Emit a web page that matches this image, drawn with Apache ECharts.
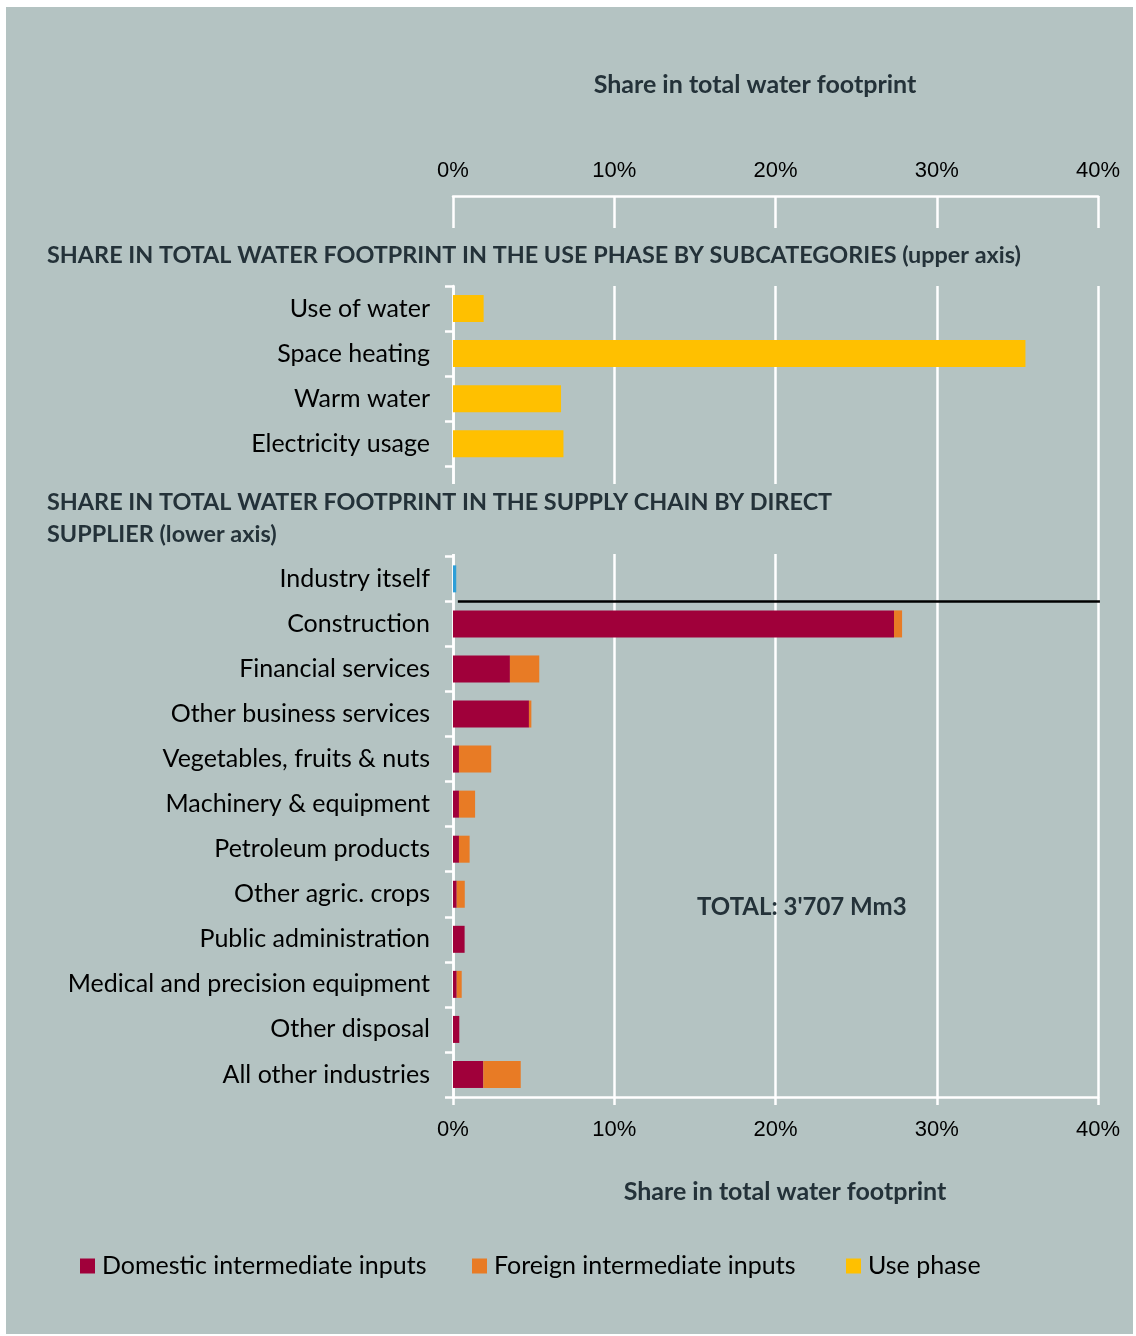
<!DOCTYPE html>
<html>
<head>
<meta charset="utf-8">
<script src="https://cdn.jsdelivr.net/npm/echarts@6/dist/echarts.min.js"></script>
<style>
  html, body { margin: 0; padding: 0; background: #ffffff; }
  #bg { position: absolute; left: 6px; top: 7px; width: 1127px; height: 1327px; background: #b4c3c2; }
  #chart { position: absolute; left: 0; top: 0; width: 1136px; height: 1336px; }
</style>
</head>
<body>
<div id="bg"></div>
<div id="chart"></div>
<script>
// Rows of the chart, top to bottom; the two blank rows hold the supply-chain heading.
const categories = [
  'Use of water', 'Space heating', 'Warm water', 'Electricity usage',
  ' ', '  ',
  'Industry itself', 'Construction', 'Financial services', 'Other business services',
  'Vegetables, fruits & nuts', 'Machinery & equipment', 'Petroleum products',
  'Other agric. crops', 'Public administration', 'Medical and precision equipment',
  'Other disposal', 'All other industries'
];

// Shares in total water footprint, in percent
const usePhase = [1.9, 35.5, 6.7, 6.85, '-', '-', '-', '-', '-', '-', '-', '-', '-', '-', '-', '-', '-', '-'];
const domesticInputs = ['-', '-', '-', '-', '-', '-', '-', 27.35, 3.53, 4.71, 0.37, 0.37, 0.37, 0.23, 0.72, 0.23, 0.39, 1.88];
const foreignInputs = ['-', '-', '-', '-', '-', '-', '-', 0.5, 1.82, 0.15, 2.0, 1.0, 0.66, 0.5, '-', 0.31, '-', 2.32];
const industryItself = ['-', '-', '-', '-', '-', '-', 0.2, '-', '-', '-', '-', '-', '-', '-', '-', '-', '-', '-'];

const tickLabels = ['0%', '10%', '20%', '30%', '40%'];

const BG = '#b4c3c2';
const HEAD = '#243239';
const BODY_FONT = 'Lato, "Open Sans", sans-serif';
const TICK_FONT = '"Liberation Sans", Arial, sans-serif';

const tickFormatter = v => tickLabels[Math.round(v / 10)] ?? '';

const chart = echarts.init(document.getElementById('chart'), null, { renderer: 'canvas' });

const baseGraphics = [
  {
    id: 'topTitle', type: 'text', x: 755, y: 85, z: 100,
    style: { text: 'Share in total water footprint', font: 'bold 25px ' + BODY_FONT, fill: HEAD, align: 'center', verticalAlign: 'middle' }
  },
  {
    id: 'bottomTitle', type: 'text', x: 785, y: 1192, z: 100,
    style: { text: 'Share in total water footprint', font: 'bold 25px ' + BODY_FONT, fill: HEAD, align: 'center', verticalAlign: 'middle' }
  },
  {
    id: 'useHeading', type: 'text', x: 47, y: 239, z: 100,
    style: { text: 'SHARE IN TOTAL WATER FOOTPRINT IN THE USE PHASE BY SUBCATEGORIES (upper axis)', font: 'bold 23.4px ' + BODY_FONT, fill: HEAD, lineHeight: 32, verticalAlign: 'top' }
  },
  {
    id: 'supplyHeading', type: 'text', x: 47, y: 484, z: 100,
    style: {
      text: 'SHARE IN TOTAL WATER FOOTPRINT IN THE SUPPLY CHAIN BY DIRECT\nSUPPLIER (lower axis)',
      font: 'bold 23.4px ' + BODY_FONT, fill: HEAD, lineHeight: 32, verticalAlign: 'top',
      backgroundColor: BG, padding: [2, 10, 4, 0]
    }
  },
  {
    id: 'total', type: 'text', x: 697, y: 907, z: 100,
    style: { text: "TOTAL: 3'707 Mm3", font: 'bold 24px ' + BODY_FONT, fill: HEAD, verticalAlign: 'middle' }
  }
];

const legendBase = {
  orient: 'horizontal', top: 1252, padding: 0, icon: 'rect', itemWidth: 15, itemHeight: 15,
  textStyle: { fontFamily: BODY_FONT, fontSize: 25, color: '#000', lineHeight: 28, padding: [0, 0, 0, 2] }
};

const option = {
  backgroundColor: 'transparent',
  animation: false,
  grid: { left: 453, right: 38, top: 286, bottom: 239, containLabel: false },
  legend: [
    Object.assign({}, legendBase, { left: 80, data: ['Domestic intermediate inputs'] }),
    Object.assign({}, legendBase, { left: 472, data: ['Foreign intermediate inputs'] }),
    Object.assign({}, legendBase, { left: 846, data: ['Use phase'] })
  ],
  xAxis: [
    {
      type: 'value', position: 'bottom', min: 0, max: 40, interval: 10,
      axisLine: { show: true, lineStyle: { color: '#ffffff', width: 2.5 } },
      axisTick: { show: true, length: 8, lineStyle: { color: '#ffffff', width: 2.5 } },
      axisLabel: { formatter: tickFormatter, fontFamily: TICK_FONT, fontSize: 22, color: '#000', margin: 22 },
      splitLine: { show: true, lineStyle: { color: '#ffffff', width: 2.5 } }
    },
    {
      type: 'value', position: 'top', offset: 90, min: 0, max: 40, interval: 10,
      axisLine: { show: true, lineStyle: { color: '#ffffff', width: 2.5 } },
      axisTick: { show: true, inside: true, length: 32, lineStyle: { color: '#ffffff', width: 2.5 } },
      axisLabel: { formatter: tickFormatter, fontFamily: TICK_FONT, fontSize: 22, color: '#000', margin: 14 },
      splitLine: { show: false }
    }
  ],
  yAxis: {
    type: 'category', inverse: true, data: categories,
    axisLine: { show: true, lineStyle: { color: '#ffffff', width: 2.5 } },
    axisTick: { show: true, length: 8, lineStyle: { color: '#ffffff', width: 2.5 } },
    axisLabel: { fontFamily: BODY_FONT, fontSize: 25, color: '#000', margin: 23, formatter: v => v.trim() },
    splitLine: { show: false }
  },
  series: [
    {
      name: 'Domestic intermediate inputs', type: 'bar', stack: 'share', xAxisIndex: 0,
      barWidth: 27, itemStyle: { color: '#a0003a' }, data: domesticInputs
    },
    {
      name: 'Foreign intermediate inputs', type: 'bar', stack: 'share', xAxisIndex: 0,
      barWidth: 27, itemStyle: { color: '#e87b25' }, data: foreignInputs
    },
    {
      name: 'Industry itself', type: 'bar', stack: 'share', xAxisIndex: 0,
      barWidth: 27, itemStyle: { color: '#2e9fd8' }, data: industryItself
    },
    {
      name: 'Use phase', type: 'bar', stack: 'share', xAxisIndex: 1,
      barWidth: 27, itemStyle: { color: '#ffc000' }, data: usePhase
    }
  ],
  graphic: { elements: baseGraphics }
};

chart.setOption(option);

// Separator between the industry's own use and its suppliers, placed on the
// boundary between the two rows and spanning the lower value axis.
const yOwn = chart.convertToPixel({ yAxisIndex: 0 }, 'Industry itself');
const yNext = chart.convertToPixel({ yAxisIndex: 0 }, 'Construction');
const ySep = (yOwn + yNext) / 2;
const xStart = chart.convertToPixel({ xAxisIndex: 0 }, 0.3);
const xEnd = chart.convertToPixel({ xAxisIndex: 0 }, 40.12);

option.graphic = {
  elements: baseGraphics.concat([{
    id: 'separator', type: 'line', z: 90,
    shape: { x1: xStart, y1: ySep, x2: xEnd, y2: ySep },
    style: { stroke: '#000000', lineWidth: 2.5 }
  }])
};
chart.setOption(option, true);
</script>
</body>
</html>
